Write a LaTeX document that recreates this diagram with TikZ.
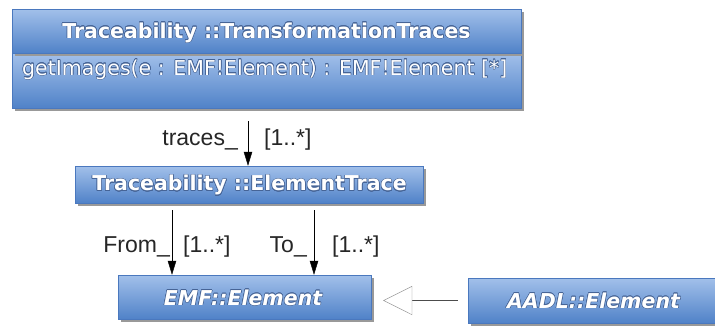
\documentclass[tikz,border=0pt]{standalone}
\usepackage{fontspec}
\setmainfont{DejaVu Sans}
\newfontfamily\lblfont{Liberation Sans}
\usepackage[copies]{contour}
\contourlength{0.5pt}
\usetikzlibrary{arrows.meta,shadows,positioning}
\definecolor{umltop}{RGB}{162,192,234}
\definecolor{umlbot}{RGB}{80,130,200}
\definecolor{umlline}{RGB}{74,120,190}
\definecolor{umlglow}{RGB}{70,100,150}
\def\Trace{Traceability ::}
\newcommand\glowtext[1]{\contour{umlglow}{#1}}

\begin{document}
\begin{tikzpicture}[x=1pt,y=-1pt,% List of styles applied to all
				classbox/.style={
					rectangle,draw=umlline,
					top color=umltop,bottom color=umlbot,
					inner sep=0pt,
					drop shadow={shadow xshift=3pt,shadow yshift=-3pt,fill=black!40,opacity=1}
				},
				classname/.style={text=white,font=\fontsize{20.5}{24}\selectfont\bfseries},
				role/.style={font=\lblfont\fontsize{23}{26}\selectfont,text=black!85,inner sep=0pt},
				assoc/.style={draw=black,-{Triangle[length=14pt,width=8.5pt]}},
				generalize/.style={draw=black!70,-{Triangle[open,length=29pt,width=29pt,color=black!45,fill=white]}}
			]
			\useasboundingbox (0,0) rectangle (715,325);
			% the classes
			\node[classbox,minimum width=509pt,minimum height=55pt](R1b) at (266.5,80.5){};
			\node[classbox,minimum width=509pt,minimum height=44pt](R1) at (266.5,31){};
			\node[classname](R1t) at (266.5,33){\glowtext{\Trace TransformationTraces}};
			\node[text=white,font=\fontsize{20.5}{24}\selectfont,anchor=base west,inner sep=0pt](R1o) at (22,75){\glowtext{getImages(e : EMF!Element) : EMF!Element [*]}};
			\node[classbox,minimum width=348pt,minimum height=37pt](R2) at (249,184.5){};
			\node[classname](R2t) at (249.5,185.5){\glowtext{\Trace ElementTrace}};
			\node[classbox,minimum width=253pt,minimum height=44pt](R3) at (244.5,297){};
			\node[classname,font=\fontsize{20.5}{24}\selectfont\bfseries\itshape](R3t) at (243,298){\glowtext{EMF::Element}};
			\node[classbox,minimum width=252pt,minimum height=45pt](R4) at (594,300.5){};
			\node[classname,font=\fontsize{20.5}{24}\selectfont\bfseries\itshape](R4t) at (593.5,301){\glowtext{AADL::Element}};
			% association ends
			\coordinate (C1) at (248,121);
			\coordinate (C2) at (172,210);
			\coordinate (C3) at (314,210);
			\path
			(C1)edge [assoc] (C1|-R2.north)
			(C2)edge [assoc] (C2|-R3.north)
			(C3)edge [assoc] (C3|-R3.north)
			(R4.west)edge [generalize,shorten <=10pt,shorten >=12pt] (R4.west-|R3.east)
			;
			\node[role,anchor=east](L1) at (238,140){traces\_};
			\node[role,anchor=west](M1) at (264,140){[1..*]};
			\node[role,anchor=east](L2) at (170,247){From\_};
			\node[role,anchor=west](M2) at (183,247){[1..*]};
			\node[role,anchor=east](L3) at (307,247){To\_};
			\node[role,anchor=west](M3) at (332,247){[1..*]};
		\end{tikzpicture}
\end{document}
